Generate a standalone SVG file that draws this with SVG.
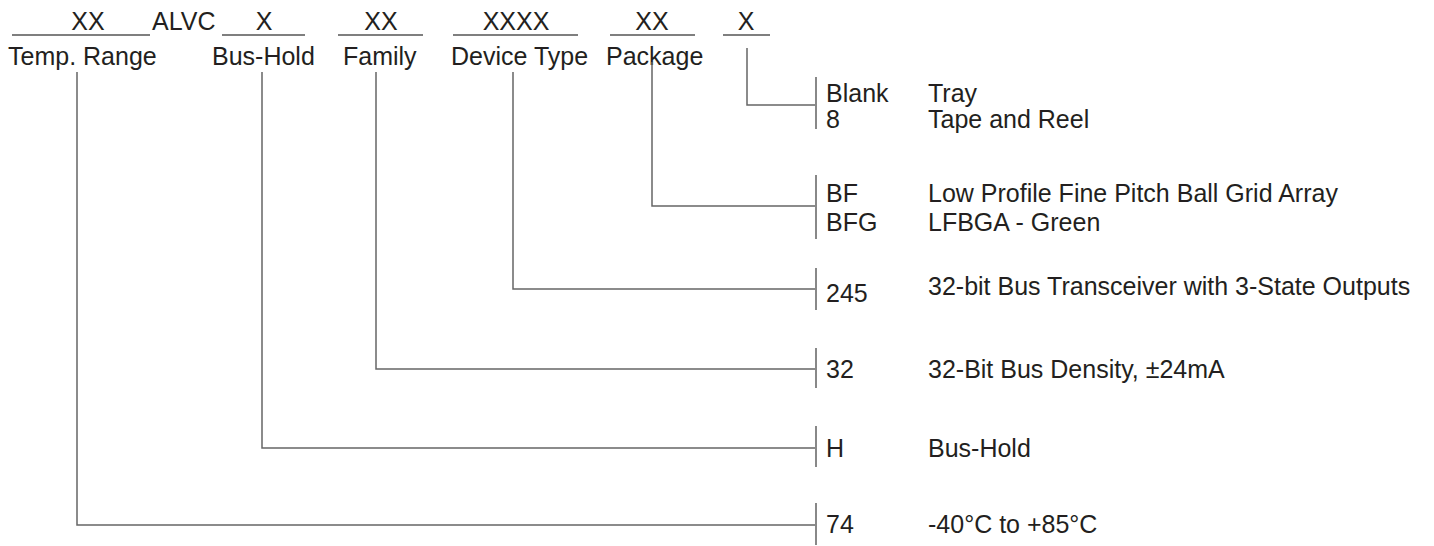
<svg xmlns="http://www.w3.org/2000/svg" width="1434" height="546" viewBox="0 0 1434 546">
<style>
text{font-family:"Liberation Sans",Arial,sans-serif;font-size:25px;fill:#231f20}
.c{text-anchor:middle}
.u{stroke:#555;stroke-width:1.5;fill:none}
.ln{stroke:#666;stroke-width:1.5;fill:none}
.bar{stroke:#888;stroke-width:2;fill:none}
</style>
<rect width="1434" height="546" fill="#fff"/>
<g id="header">
<text class="c" x="88" y="30">XX</text>
<line class="u" x1="12" y1="35" x2="150" y2="35"/>
<text x="152" y="30">ALVC</text>
<text class="c" x="264" y="30">X</text>
<line class="u" x1="222" y1="35" x2="305" y2="35"/>
<text class="c" x="381" y="30">XX</text>
<line class="u" x1="338" y1="35" x2="423" y2="35"/>
<text class="c" x="516" y="30">XXXX</text>
<line class="u" x1="453" y1="35" x2="578" y2="35"/>
<text class="c" x="652" y="30">XX</text>
<line class="u" x1="610" y1="35" x2="695" y2="35"/>
<text class="c" x="746" y="30">X</text>
<line class="u" x1="723" y1="35" x2="770" y2="35"/>
<text x="8" y="65">Temp. Range</text>
<text x="212" y="65">Bus-Hold</text>
<text x="343" y="65">Family</text>
<text x="451" y="65">Device Type</text>
<text x="606" y="65">Package</text>
</g>
<g id="connectors">
<polyline class="ln" points="747,48 747,105 816,105"/>
<polyline class="ln" points="652,62 652,206 816,206"/>
<polyline class="ln" points="513,72 513,289 816,289"/>
<polyline class="ln" points="376,72 376,369 816,369"/>
<polyline class="ln" points="262,72 262,448 816,448"/>
<polyline class="ln" points="77,72 77,525 816,525"/>
</g>
<g id="node-option">
<line class="bar" x1="816" y1="77" x2="816" y2="129"/>
<text x="826" y="102">Blank</text><text x="928" y="102">Tray</text>
<text x="826" y="128">8</text><text x="928" y="128">Tape and Reel</text>
</g>
<g id="node-package">
<line class="bar" x1="816" y1="175" x2="816" y2="239"/>
<text x="826" y="202">BF</text><text x="928" y="202">Low Profile Fine Pitch Ball Grid Array</text>
<text x="826" y="231">BFG</text><text x="928" y="231">LFBGA - Green</text>
</g>
<g id="node-device">
<line class="bar" x1="816" y1="268" x2="816" y2="310"/>
<text x="826" y="302">245</text><text x="928" y="295">32-bit Bus Transceiver with 3-State Outputs</text>
</g>
<g id="node-family">
<line class="bar" x1="816" y1="348" x2="816" y2="388"/>
<text x="826" y="378">32</text><text x="928" y="378">32-Bit Bus Density, ±24mA</text>
</g>
<g id="node-bushold">
<line class="bar" x1="816" y1="426" x2="816" y2="467"/>
<text x="826" y="457">H</text><text x="928" y="457">Bus-Hold</text>
</g>
<g id="node-temp">
<line class="bar" x1="816" y1="503" x2="816" y2="545"/>
<text x="826" y="533">74</text><text x="928" y="533">-40°C to +85°C</text>
</g>
</svg>
